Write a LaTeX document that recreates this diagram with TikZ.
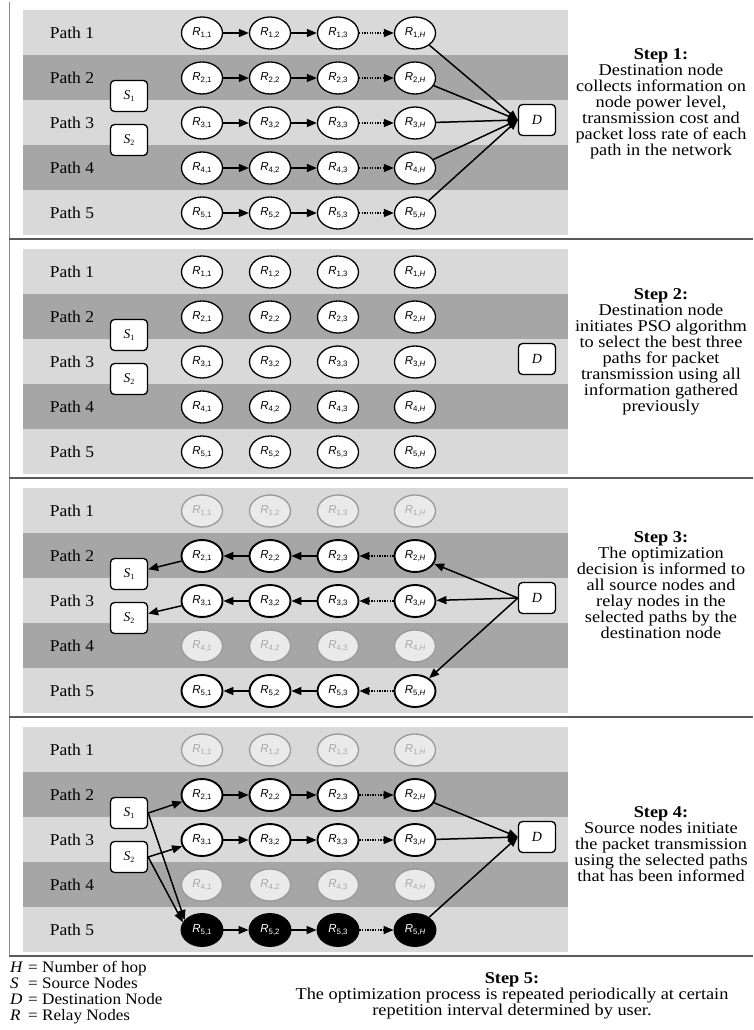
\documentclass[tikz,border=0pt]{standalone}
\usepackage{fontspec}
\setmainfont{Liberation Serif}
\newfontfamily\arialf{Liberation Sans}
\usetikzlibrary{arrows.meta,shapes.geometric}
\definecolor{bandlight}{HTML}{D9D9D9}
\definecolor{banddark}{HTML}{A6A6A6}
\definecolor{fadeline}{HTML}{9A9A9A}
\definecolor{fadetext}{HTML}{A8A8A8}
\definecolor{fadefill}{HTML}{EAEAEA}
\definecolor{sepline}{HTML}{5A5A5A}
\definecolor{frameline}{HTML}{8A8A8A}
\newcommand\itH{\textit{H}}
\newcommand\rlab[2]{{\arialf\fontsize{11.5}{11.5}\selectfont\textit{R}\raisebox{-2.2pt}{\fontsize{7.8}{7.8}\selectfont #1,#2}}}
\newcommand\slab[1]{{\fontsize{13.5}{13.5}\selectfont\textit{S}\raisebox{-2pt}{\fontsize{8}{8}\selectfont #1}}}
\newcommand\dlab{{\fontsize{14}{14}\selectfont\textit{D}}}
\newcommand\drawpanel[6]{%
  \pgfmathsetmacro\T{239*#1}
  \foreach \i/\c in {0/bandlight,1/banddark,2/bandlight,3/banddark,4/bandlight}{
    \fill[\c] (23,{\T+10+45*\i}) rectangle (568,{\T+55+45*\i});
  }
  \foreach \i/\st in {1/#2,2/#3,3/#4,4/#5,5/#6}{
    \node[pathlab] (L#1-\i) at (72,{\T+33+45*(\i-1)}) {Path \i};
    \foreach \j/\x/\jl in {1/202/1,2/270/2,3/338/3,H/415/\itH}{
      \node[\st] (R#1-\i-\j) at (\x,{\T+33+45*(\i-1)}) {\rlab{\i}{\jl}};
    }
  }
  \node[sbox] (S#1-1) at (129,{\T+96}) {\slab{1}};
  \node[sbox] (S#1-2) at (129,{\T+140}) {\slab{2}};
  \node[sbox] (D#1) at (537,{\T+120}) {\dlab};
}
\begin{document}
\begin{tikzpicture}[x=1pt,y=-1pt,
  rbase/.style={ellipse, minimum width=41pt, minimum height=32pt, inner sep=0pt},
  rnorm/.style={rbase, draw=black, line width=1.3pt, fill=white},
  rbold/.style={rbase, draw=black, line width=1.9pt, fill=white},
  rfade/.style={rbase, draw=fadeline, line width=1.3pt, fill=fadefill, text=fadetext},
  rblack/.style={rbase, draw=black, line width=1.9pt, fill=black, text=white},
  sbox/.style={draw, rounded corners=4pt, minimum width=37pt, minimum height=31pt, fill=white, line width=1.3pt, inner sep=0pt},
  arr/.style={-{Triangle[length=10pt,width=8pt]}, line width=1.5pt},
  darr/.style={arr, dash pattern=on 1.3pt off 1.3pt},
  pathlab/.style={font=\fontsize{16.5}{17.5}\selectfont, xscale=1.06, inner sep=0pt},
  steptext/.style={align=center, font=\fontsize{16.5}{16}\selectfont, xscale=1.11, inner sep=0pt},
  legtext/.style={font=\fontsize{16}{16}\selectfont, anchor=base west, inner sep=0pt, xscale=1.07},
]
\useasboundingbox (0,0) rectangle (753,1030);
\fill[white] (0,0) rectangle (753,1030);

\drawpanel{0}{rnorm}{rnorm}{rnorm}{rnorm}{rnorm}
\drawpanel{1}{rnorm}{rnorm}{rnorm}{rnorm}{rnorm}
\drawpanel{2}{rfade}{rbold}{rbold}{rfade}{rbold}
\drawpanel{3}{rfade}{rbold}{rbold}{rfade}{rblack}

% Step 1 arrows
\foreach \i in {1,...,5}{
  \draw[arr] (R0-\i-1) -- (R0-\i-2);
  \draw[arr] (R0-\i-2) -- (R0-\i-3);
  \draw[darr] (R0-\i-3) -- (R0-\i-H);
  \draw[arr] (R0-\i-H) -- (D0.west);
}
% Step 3 arrows
\foreach \i in {2,3,5}{
  \draw[arr] (R2-\i-2) -- (R2-\i-1);
  \draw[arr] (R2-\i-3) -- (R2-\i-2);
  \draw[darr] (R2-\i-H) -- (R2-\i-3);
  \draw[arr] (D2.west) -- (R2-\i-H);
}
\draw[arr] (R2-2-1) -- (S2-1);
\draw[arr] (R2-3-1) -- (S2-2);
% Step 4 arrows
\foreach \i in {2,3,5}{
  \draw[arr] (R3-\i-1) -- (R3-\i-2);
  \draw[arr] (R3-\i-2) -- (R3-\i-3);
  \draw[darr] (R3-\i-3) -- (R3-\i-H);
  \draw[arr] (R3-\i-H) -- (D3.west);
}
\draw[arr] (S3-1.east) -- (R3-2-1);
\draw[arr] (S3-2.east) -- (R3-3-1);
\draw[arr] (S3-1.east) -- (R3-5-1.150);
\draw[arr] (S3-2.east) -- (R3-5-1.158);

% frame and separators
\draw[frameline, line width=0.8pt] (9,2) -- (9,956);
\foreach \yy in {239,478,717,956}{
  \draw[sepline, line width=1.6pt] (9,\yy) -- (753,\yy);
}

% step texts
\node[steptext] (st1) at (661,104) {\textbf{Step 1:}\\Destination node\\collects information on\\node power level,\\transmission cost and\\packet loss rate of each\\path in the network};
\node[steptext] (st2) at (661,352) {\textbf{Step 2:}\\Destination node\\initiates PSO algorithm\\to select the best three\\paths for packet\\transmission using all\\information gathered\\previously};
\node[steptext] (st3) at (661,585) {\textbf{Step 3:}\\The optimization\\decision is informed to\\all source nodes and\\relay nodes in the\\selected paths by the\\destination node};
\node[steptext] (st4) at (661,844) {\textbf{Step 4:}\\Source nodes initiate\\the packet transmission\\using the selected paths\\that has been informed};
\node[steptext] (st5) at (512,996) {\textbf{Step 5:}\\The optimization process is repeated periodically at certain\\repetition interval determined by user.};

% legend
\node[legtext] (lh) at (10,972) {\textit{H}};
\node[legtext] (lhe) at (28,972) {= Number of hop};
\node[legtext] (ls) at (10,988) {\textit{S}};
\node[legtext] (lse) at (28,988) {= Source Nodes};
\node[legtext] (ld) at (10,1004) {\textit{D}};
\node[legtext] (lde) at (28,1004) {= Destination Node};
\node[legtext] (lr) at (10,1020) {\textit{R}};
\node[legtext] (lre) at (28,1020) {= Relay Nodes};
\end{tikzpicture}
\end{document}
